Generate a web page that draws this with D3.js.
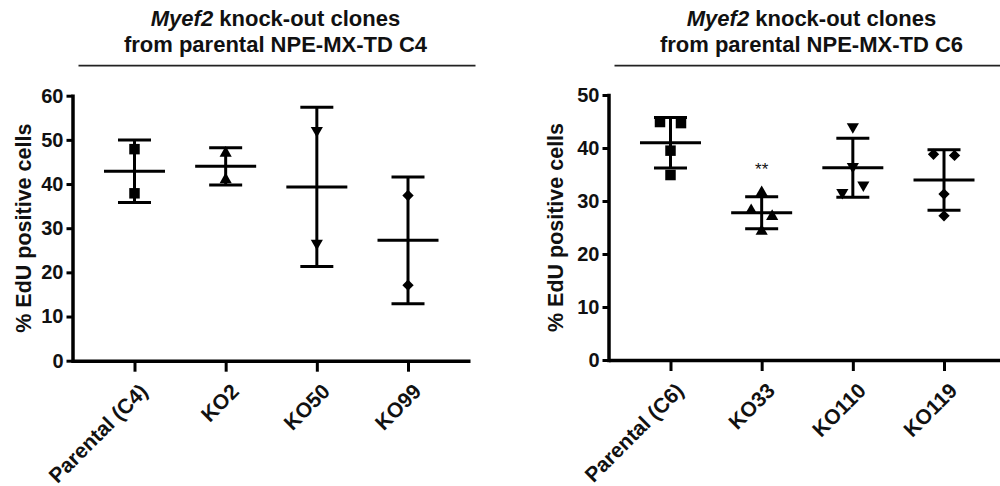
<!DOCTYPE html>
<html>
<head>
<meta charset="utf-8">
<script src="https://cdn.jsdelivr.net/npm/d3@7"></script>
<style>
  html, body { margin: 0; padding: 0; background: #fff; }
  svg { display: block; }
  text { font-family: Arial, "Liberation Sans", sans-serif; fill: #111; }
</style>
</head>
<body>
<svg id="chart" width="1000" height="486"></svg>
<script>
// ---------- data ----------
const categoriesC4 = ["Parental (C4)", "KO2", "KO50", "KO99"];
const valuesC4 = [
  [47.9, 37.9],
  [47.0, 41.0],
  [52.1, 26.6],
  [37.4, 17.1]
];
const yTicksC4 = [0, 10, 20, 30, 40, 50, 60];
const titleC4 = ["Myef2", " knock-out clones", "from parental NPE-MX-TD C4"];

const categoriesC6 = ["Parental (C6)", "KO33", "KO110", "KO119"];
const valuesC6 = [
  [44.9, 44.7, 39.5, 34.9],
  [31.6, 28.2, 27.1, 24.3],
  [44.0, 36.5, 31.6, 33.0],
  [38.8, 38.6, 31.3, 27.2]
];
const yTicksC6 = [0, 10, 20, 30, 40, 50];
const titleC6 = ["Myef2", " knock-out clones", "from parental NPE-MX-TD C6"];
const significanceC6 = ["", "**", "", ""];

const symbolKinds = ["square", "triangle", "triangleDown", "diamond"];
const yLabel = "% EdU positive cells";

// ---------- drawing ----------
const svg = d3.select("#chart");

function symbolPath(kind) {
  if (kind === "square") return d3.symbol(d3.symbolSquare, 110)();
  if (kind === "triangle" || kind === "triangleDown") return d3.symbol(d3.symbolTriangle, 64)();
  return d3.symbol(d3.symbolSquare, 64)();
}
function symbolRotate(kind) {
  if (kind === "triangleDown") return 180;
  if (kind === "diamond") return 45;
  return 0;
}

function drawPanel(opt) {
  const g = svg.append("g");
  const x = d3.scalePoint().domain(opt.categories).range([opt.x0, opt.x1]).padding(0.68);
  const y = d3.scaleLinear().domain([0, d3.max(opt.ticks)]).range([opt.yB, opt.yT]);

  // title
  const tx = opt.x0 + 203;
  const t1 = g.append("text").attr("x", tx).attr("y", 25.5).attr("text-anchor", "middle")
    .style("font-size", "22px").style("font-weight", "bold");
  t1.append("tspan").style("font-style", "italic").text(opt.title[0]);
  t1.append("tspan").text(opt.title[1]);
  g.append("text").attr("x", tx).attr("y", 51.5).attr("text-anchor", "middle")
    .style("font-size", "22px").style("font-weight", "bold").text(opt.title[2]);
  g.append("line").attr("x1", opt.x0 + 6).attr("x2", opt.x0 + 403)
    .attr("y1", 65.7).attr("y2", 65.7).attr("stroke", "#222").attr("stroke-width", 1.8);

  // y axis
  const ya = g.append("g").attr("transform", `translate(${opt.x0},0)`)
    .call(d3.axisLeft(y).tickValues(opt.ticks).tickSize(6).tickSizeOuter(0).tickPadding(3));
  ya.select(".domain").attr("stroke", "#000").attr("stroke-width", 3.5).attr("stroke-linecap", "square");
  ya.selectAll(".tick line").attr("stroke", "#000").attr("stroke-width", 3);
  ya.selectAll(".tick text").style("font-size", "20px").style("font-weight", "bold")
    .attr("fill", "#111").attr("font-family", null);

  // y label
  g.append("text")
    .attr("transform", `translate(${opt.labelX},${(opt.yT + opt.yB) / 2}) rotate(-90)`)
    .attr("text-anchor", "middle").style("font-size", "21.5px").style("font-weight", "bold")
    .text(yLabel);

  // x axis
  const xa = g.append("g").attr("transform", `translate(0,${opt.yB})`)
    .call(d3.axisBottom(x).tickSize(11).tickSizeOuter(0).tickFormat(""));
  xa.select(".domain").attr("stroke", "#000").attr("stroke-width", 3.5);
  xa.selectAll(".tick line").attr("stroke", "#000").attr("stroke-width", 3);
  g.selectAll(".xlab").data(opt.categories).join("text")
    .attr("class", "xlab")
    .attr("transform", d => `translate(${x(d) + 14.5},${opt.yB + 32}) rotate(-45)`)
    .attr("text-anchor", "end").style("font-size", "21px").style("font-weight", "bold")
    .text(d => d);

  // data
  const step = 21;
  opt.categories.forEach((cat, i) => {
    const vals = opt.values[i];
    const cx = x(cat);
    const m = d3.mean(vals);
    const sd = d3.deviation(vals);
    const kind = symbolKinds[i];

    // horizontal spread for overlapping points (in data order)
    const offs = vals.map(() => 0);
    const used = vals.map(() => false);
    vals.forEach((v, j) => {
      if (used[j]) return;
      const grp = [j];
      used[j] = true;
      vals.forEach((w, k) => {
        if (!used[k] && Math.abs(y(v) - y(w)) < 11) { grp.push(k); used[k] = true; }
      });
      grp.forEach((k, n) => { offs[k] = (n - (grp.length - 1) / 2) * step; });
    });

    g.selectAll(null).data(vals).join("path")
      .attr("d", symbolPath(kind))
      .attr("transform", (d, j) => `translate(${cx + offs[j]},${y(d)}) rotate(${symbolRotate(kind)})`)
      .attr("fill", "#000");

    const lw = 3;
    g.append("line").attr("x1", cx).attr("x2", cx).attr("y1", y(m + sd)).attr("y2", y(m - sd))
      .attr("stroke", "#000").attr("stroke-width", lw);
    [m + sd, m - sd].forEach(v => {
      g.append("line").attr("x1", cx - 16.5).attr("x2", cx + 16.5).attr("y1", y(v)).attr("y2", y(v))
        .attr("stroke", "#000").attr("stroke-width", lw);
    });
    g.append("line").attr("x1", cx - 30.5).attr("x2", cx + 30.5).attr("y1", y(m)).attr("y2", y(m))
      .attr("stroke", "#000").attr("stroke-width", lw);

    if (opt.sig && opt.sig[i]) {
      g.append("text").attr("x", cx).attr("y", y(m + sd) - 22).attr("text-anchor", "middle")
        .style("font-size", "17px").attr("fill", "#333").text(opt.sig[i]);
    }
  });
}

drawPanel({
  categories: categoriesC4, values: valuesC4, ticks: yTicksC4, title: titleC4,
  x0: 72.5, x1: 470, yT: 95.7, yB: 360.7, labelX: 31
});
drawPanel({
  categories: categoriesC6, values: valuesC6, ticks: yTicksC6, title: titleC6, sig: significanceC6,
  x0: 608.5, x1: 1006, yT: 95, yB: 360, labelX: 563
});
</script>
</body>
</html>
